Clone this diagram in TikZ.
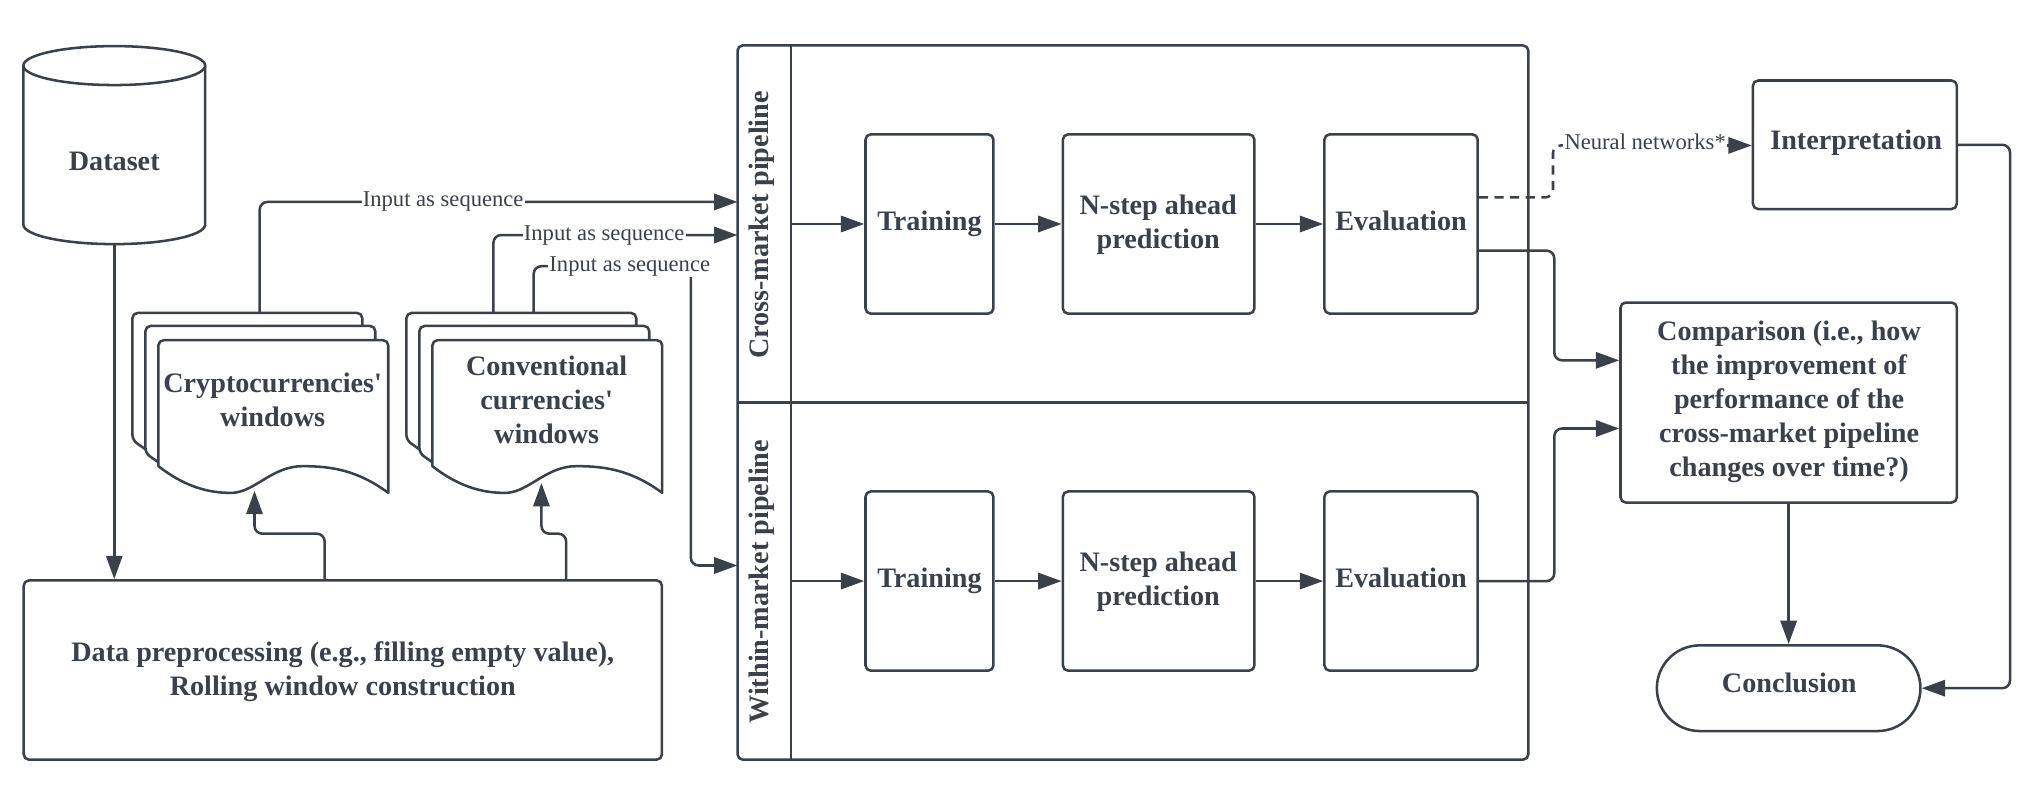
\documentclass[tikz,border=0pt]{standalone}
\usepackage{fontspec}
\newfontfamily\lib{Liberation Serif}
\usetikzlibrary{arrows.meta,calc}
\definecolor{ink}{HTML}{3A414A}
\tikzset{
  base/.style={draw=ink,line width=1.95pt,line join=round},
  box/.style={base,rounded corners=4pt,fill=white,inner sep=0pt,align=center,text=ink,
    font=\lib\fontsize{21.7}{26.3}\selectfont\bfseries},
  txt/.style={inner sep=0pt,align=center,text=ink,
    font=\lib\fontsize{21.7}{26.3}\selectfont\bfseries},
  lab/.style={fill=white,inner sep=1pt,text=ink,font=\lib\fontsize{17.4}{20}\selectfont},
  conn/.style={base,rounded corners=6pt,-{Triangle[length=18pt,width=12.5pt]}},
}
\newcommand{\docstack}{%
  \draw[base,fill=white,rounded corners=4pt] (112,346) -- (102,339) -- (102,241) -- (279,241) -- (279,252);
  \draw[base,fill=white,rounded corners=4pt] (122,356) -- (112,349) -- (112,251) -- (289,251) -- (289,263);
  \draw[base,fill=white] (122,359) [rounded corners=4pt] -- (122,262) -- (299,262) [sharp corners] -- (299,379.5)
    .. controls (275,362) and (255,359) .. (233,359)
    .. controls (210,359) and (197,378) .. (180,379.5)
    .. controls (165,380) and (145,377) .. (122,359) -- cycle;
}
\begin{document}
\begin{tikzpicture}[x=1pt,y=-1pt]
\useasboundingbox (0,0) rectangle (1568,619.2);
\fill[white] (0,0) rectangle (1568,619.2);

% cylinder
\draw[base,fill=white] (18,50.5) -- (18,173) arc[start angle=180,end angle=360,x radius=70,y radius=-15] -- (158,50.5);
\draw[base,fill=white] (88,50.5) ellipse[x radius=70,y radius=15];
\node[txt] (ds) at (88,124) {Dataset};
\coordinate (dsb) at (88,188);

% preprocessing
\node[box,minimum width=491.5pt,minimum height=138pt] (pre) at (264,516) {};
\node[txt] (preT) at (264,517) {Data preprocessing (e.g., filling empty value),\\Rolling window construction};

% document stacks
\docstack
\begin{scope}[xshift=211pt]\docstack\end{scope}
\node[txt] (cry) at (210,308) {Cryptocurrencies'\\windows};
\node[txt] (con) at (421,308) {Conventional\\currencies'\\windows};
\coordinate (cryT) at (200,241);
\coordinate (conTa) at (380,241);
\coordinate (conTb) at (411,241);
\coordinate (cryB) at (196,378);
\coordinate (conB) at (417,372);
\coordinate (preA) at (250,447);
\coordinate (preB) at (436,447);

% pool
\node[base,rounded corners=4pt,fill=white,minimum width=609pt,minimum height=550pt,inner sep=0pt] (pool) at (872.5,310) {};
\coordinate (divT) at (609,35);
\coordinate (divB) at (609,585);
\coordinate (hL) at (568,310);
\coordinate (hR) at (1177,310);
\draw[base] (divT) -- (divB);
\draw[base] (hL) -- (hR);
\node[txt,rotate=90] (crossL) at (587,173.3) {Cross-market pipeline};
\node[txt,rotate=90] (withinL) at (587,448) {Within-market pipeline};

% pipeline boxes
\node[box,minimum width=98.5pt,minimum height=138pt] (tra) at (715.8,172.5) {Training};
\node[box,minimum width=147.5pt,minimum height=138pt] (nsa) at (892.3,172.5) {};
\node[txt] (nsaT) at (892,173) {N-step ahead\\prediction};
\node[box,minimum width=118pt,minimum height=138pt] (eva) at (1079,172.5) {};
\node[txt] (evaT) at (1079,170.5) {Evaluation};
\node[box,minimum width=98.5pt,minimum height=138pt] (trb) at (715.8,447.5) {Training};
\node[box,minimum width=147.5pt,minimum height=138pt] (nsb) at (892.3,447.5) {};
\node[txt] (nsbT) at (892,448) {N-step ahead\\prediction};
\node[box,minimum width=118pt,minimum height=138pt] (evb) at (1079,447.5) {};
\node[txt] (evbT) at (1079,445) {Evaluation};

% right boxes
\node[box,minimum width=157pt,minimum height=99pt] (int) at (1428.5,111.5) {};
\node[txt] (intT) at (1429.5,110) {Interpretation};
\node[box,minimum width=259pt,minimum height=154pt] (cmp) at (1377.5,310) {};
\node[txt] (cmpT) at (1377.8,309.5) {Comparison (i.e., how\\the improvement of\\performance of the\\cross-market pipeline\\changes over time?)};
\node[box,rounded corners=33pt,minimum width=203pt,minimum height=66pt] (end) at (1377.5,530) {};
\node[txt] (endT) at (1378,526) {Conclusion};

% connectors
\draw[conn] (dsb) -- (pre.north -| dsb);
\draw[conn] (preA) -- (250,411) -- (196,411) -- (cryB);
\draw[conn] (preB) -- (436,411) -- (417,411) -- (conB);

\coordinate (pa) at (568,155.5);
\coordinate (pb) at (568,181);
\coordinate (pc) at (568,435.5);
\draw[conn] (cryT) -- (200,155.5) -- (pa);
\draw[conn] (conTa) -- (380,181) -- (pb);
\draw[conn] (conTb) -- (411,205) -- (532,205) -- (532,435.5) -- (pc);
\node[lab] (la) at (341.3,155) {Input as sequence};
\node[lab] (lb) at (465.3,181) {Input as sequence};
\node[lab] (lc) at (485,205) {Input as sequence};

\draw[conn] (divT |- tra.west) -- (tra.west);
\draw[conn] (tra.east) -- (nsa.west);
\draw[conn] (nsa.east) -- (eva.west);
\draw[conn] (divT |- trb.west) -- (trb.west);
\draw[conn] (trb.east) -- (nsb.west);
\draw[conn] (nsb.east) -- (evb.west);

\draw[base,rounded corners=6pt,dash pattern=on 7pt off 5pt] (eva.east |- 0,152) -- (1196,152) -- (1196,112) -- (1210,112);
\draw[conn] (1320,112) -- (int.west |- 0,112);
\node[lab] (ln) at (1267,109) {Neural networks*};

\draw[conn] (eva.east |- 0,193) -- (1197,193) -- (1197,277.5) -- (cmp.west |- 0,277.5);
\draw[conn] (evb.east) -- (1197,447.5) -- (1197,330) -- (cmp.west |- 0,330);
\draw[conn] (cmp.south) -- (end.north);
\draw[conn] (int.east) -- (1548,111.5) -- (1548,530) -- (end.east);
\end{tikzpicture}
\end{document}
